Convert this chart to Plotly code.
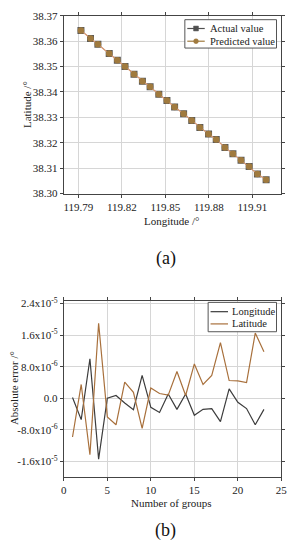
import plotly.graph_objects as go

# ---------------- data (a) ----------------
lon_actual = [119.7918, 119.7984, 119.8035, 119.8113, 119.8169, 119.8222, 119.8284,
              119.8342, 119.8395, 119.8455, 119.8511, 119.8564, 119.8626, 119.8682,
              119.8738, 119.8798, 119.8851, 119.8911, 119.8966, 119.9022, 119.9078,
              119.9135, 119.9195]
lat_actual = [38.3642, 38.3611, 38.3588, 38.3551, 38.3525, 38.3500, 38.3470,
              38.3442, 38.3420, 38.3391, 38.3366, 38.3341, 38.3314, 38.3288,
              38.3260, 38.3234, 38.3213, 38.3181, 38.3157, 38.3131, 38.3106,
              38.3077, 38.3054]
lon_pred = [119.7918, 119.7984, 119.8035, 119.8113, 119.8169, 119.8222, 119.8284,
            119.8342, 119.8395, 119.8455, 119.8511, 119.8564, 119.8626, 119.8682,
            119.8738, 119.8798, 119.8851, 119.8911, 119.8966, 119.9022, 119.9078,
            119.9135, 119.9195]
lat_pred = [38.3642, 38.3611, 38.3588, 38.3551, 38.3525, 38.3500, 38.3470,
            38.3442, 38.3420, 38.3391, 38.3366, 38.3341, 38.3314, 38.3288,
            38.3260, 38.3234, 38.3213, 38.3181, 38.3157, 38.3131, 38.3106,
            38.3077, 38.3054]
lon_ticks = [119.79, 119.82, 119.85, 119.88, 119.91]
lat_ticks = [38.30, 38.31, 38.32, 38.33, 38.34, 38.35, 38.36, 38.37]

# ---------------- data (b) ----------------
groups = list(range(1, 24))
lon_err = [0.2e-6, -5.4e-6, 10.0e-6, -15.4e-6, 0.0e-6, 0.7e-6, -1.2e-6, -2.9e-6,
           5.8e-6, -2.3e-6, -3.6e-6, 1.1e-6, -2.8e-6, 1.1e-6, -4.3e-6, -2.8e-6,
           -2.6e-6, -5.9e-6, 2.4e-6, -1.0e-6, -2.6e-6, -6.7e-6, -2.8e-6]
lat_err = [-9.8e-6, 3.5e-6, -14.3e-6, 19.0e-6, -4.7e-6, -6.7e-6, 4.1e-6, 1.5e-6,
           -7.6e-6, 2.6e-6, 1.2e-6, 0.8e-6, 6.8e-6, 0.7e-6, 8.7e-6, 3.5e-6,
           5.8e-6, 14.1e-6, 4.5e-6, 4.4e-6, 4.0e-6, 16.5e-6, 11.8e-6]
err_tickvals = [2.4e-5, 1.6e-5, 8.0e-6, 0.0, -8.0e-6, -1.6e-5]
err_ticktext = ["2.4x10<sup>-5</sup>", "1.6x10<sup>-5</sup>", "8.0x10<sup>-6</sup>",
                "0.0", "-8.0x10<sup>-6</sup>", "-1.6x10<sup>-5</sup>"]
group_ticks = [0, 5, 10, 15, 20, 25]

W, H = 299, 550
SERIF = "Liberation Serif"
BROWN = "#a8703c"
TXT = "#222"


def px(x):
    return x / W


def py(y):
    return 1 - y / H


fig = go.Figure()

# (a) traces
fig.add_trace(go.Scatter(x=lon_actual, y=lat_actual, mode="lines+markers", name="Actual value",
                         line=dict(color="#808080", width=1),
                         marker=dict(symbol="square", size=7, color="#5a5a5a"),
                         showlegend=False, xaxis="x", yaxis="y"))
fig.add_trace(go.Scatter(x=lon_pred, y=lat_pred, mode="lines+markers", name="Predicted value",
                         line=dict(color="#dc9c74", width=1.2),
                         marker=dict(symbol="circle", size=6.5, color="#a07a3e"),
                         showlegend=False, xaxis="x", yaxis="y"))

# (b) traces
fig.add_trace(go.Scatter(x=groups, y=lon_err, mode="lines", name="Longitude",
                         line=dict(color="#3c3c3c", width=1.2),
                         showlegend=False, xaxis="x2", yaxis="y2"))
fig.add_trace(go.Scatter(x=groups, y=lat_err, mode="lines", name="Latitude",
                         line=dict(color=BROWN, width=1.2),
                         showlegend=False, xaxis="x2", yaxis="y2"))

axis_common = dict(showline=True, linecolor="#444", linewidth=1, mirror="ticks",
                   ticks="outside", ticklen=3, tickcolor="#444",
                   showgrid=True, gridcolor="#d6d6d6", gridwidth=1, zeroline=False,
                   tickfont=dict(family=SERIF, size=11, color=TXT))

fig.update_layout(
    width=W, height=H,
    margin=dict(l=0, r=0, t=0, b=0),
    paper_bgcolor="white", plot_bgcolor="white",
    showlegend=False,
    xaxis=dict(domain=[px(62.7), px(287)], range=[119.78, 119.93], anchor="y",
               tickvals=lon_ticks, tickformat=".2f", **axis_common),
    yaxis=dict(domain=[py(191.7), py(10)], range=[38.30, 38.37], anchor="x",
               tickvals=lat_ticks, tickformat=".2f", **axis_common),
    xaxis2=dict(domain=[px(62.7), px(287)], range=[0, 25], anchor="y2",
                tickvals=group_ticks, **axis_common),
    yaxis2=dict(domain=[py(481), py(301.7)], range=[-1.98e-5, 2.46e-5], anchor="x2",
                tickvals=err_tickvals, ticktext=err_ticktext, **axis_common),
)

shapes = []
annotations = []


def text_at(x, y, text, size=11, angle=0, xanchor="center", family=SERIF, color=TXT):
    annotations.append(dict(xref="paper", yref="paper", x=px(x), y=py(y),
                            xanchor=xanchor, yanchor="middle", showarrow=False, text=text,
                            textangle=angle, borderpad=0, borderwidth=0,
                            font=dict(family=family, size=size, color=color)))


def legend_box(x0, y0, x1, y1):
    shapes.append(dict(type="rect", xref="paper", yref="paper",
                       x0=px(x0), x1=px(x1), y0=py(y1), y1=py(y0),
                       line=dict(color="#555", width=1), fillcolor="white", layer="above"))


def legend_item(y, color, text, symbol=None, x_line0=190, x_line1=208, x_text=213, msize=5):
    shapes.append(dict(type="line", xref="paper", yref="paper",
                       x0=px(x_line0), x1=px(x_line1), y0=py(y), y1=py(y),
                       line=dict(color=color, width=1.2), layer="above"))
    cx = (x_line0 + x_line1) / 2
    h = msize / 2
    if symbol == "square":
        shapes.append(dict(type="rect", xref="paper", yref="paper",
                           x0=px(cx - h), x1=px(cx + h), y0=py(y + h), y1=py(y - h),
                           line=dict(color=color, width=0.5), fillcolor=color, layer="above"))
    elif symbol == "circle":
        shapes.append(dict(type="circle", xref="paper", yref="paper",
                           x0=px(cx - h), x1=px(cx + h), y0=py(y + h), y1=py(y - h),
                           line=dict(color=color, width=0.5), fillcolor=color, layer="above"))
    text_at(x_text, y, text, size=10.5, xanchor="left")


# axis titles
text_at(174, 220, "Longitude /°")
text_at(25, 101, "Latitude /°", angle=-90)
text_at(174, 508, "Number of groups")
text_at(12, 391, "Absolute error /°", angle=-90)

# legend (a)
legend_box(187.5, 14, 282, 43)
legend_item(23, "#505050", "Actual value", "square")
legend_item(36, "#a07a3e", "Predicted value", "circle")

# legend (b)
legend_box(211.5, 303, 282, 333)
legend_item(312.5, "#3c3c3c", "Longitude", None, x_line0=214, x_line1=232, x_text=236)
legend_item(325, BROWN, "Latitude", None, x_line0=214, x_line1=232, x_text=236)

# panel labels
text_at(168, 258, "(a)", size=18, color="#111")
text_at(168, 536, "(b)", size=18, color="#111")

fig.update_layout(shapes=shapes, annotations=annotations)

fig.write_html("out.html",
               config={"displayModeBar": False},
               post_script="document.body.style.margin='0px';document.body.style.overflow='hidden';")
